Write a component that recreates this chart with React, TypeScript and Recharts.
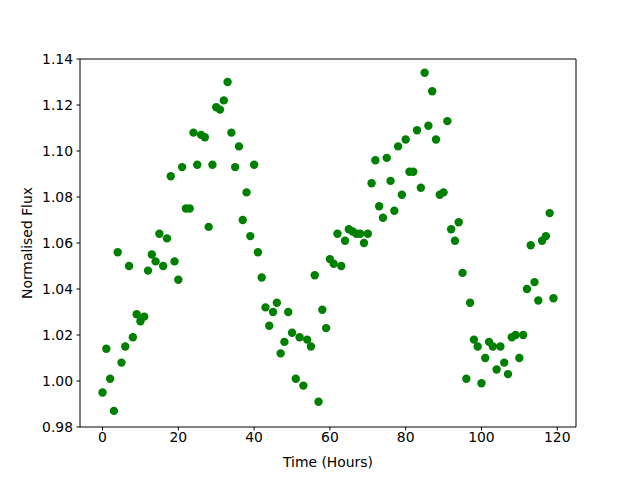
import React from 'react';
import { ScatterChart, Scatter, XAxis, YAxis, Label, ReferenceLine } from 'recharts';

const hours: number[] = Array.from({ length: 120 }, (_, i) => i);
const flux: number[] = [
  0.995, 1.014, 1.001, 0.987, 1.056, 1.008, 1.015, 1.050, 1.019, 1.029,
  1.026, 1.028, 1.048, 1.055, 1.052, 1.064, 1.050, 1.062, 1.089, 1.052,
  1.044, 1.093, 1.075, 1.075, 1.108, 1.094, 1.107, 1.106, 1.067, 1.094,
  1.119, 1.118, 1.122, 1.130, 1.108, 1.093, 1.102, 1.070, 1.082, 1.063,
  1.094, 1.056, 1.045, 1.032, 1.024, 1.030, 1.034, 1.012, 1.017, 1.030,
  1.021, 1.001, 1.019, 0.998, 1.018, 1.015, 1.046, 0.991, 1.031, 1.023,
  1.053, 1.051, 1.064, 1.050, 1.061, 1.066, 1.065, 1.064, 1.064, 1.060,
  1.064, 1.086, 1.096, 1.076, 1.071, 1.097, 1.087, 1.074, 1.102, 1.081,
  1.105, 1.091, 1.091, 1.109, 1.084, 1.134, 1.111, 1.126, 1.105, 1.081,
  1.082, 1.113, 1.066, 1.061, 1.069, 1.047, 1.001, 1.034, 1.018, 1.015,
  0.999, 1.010, 1.017, 1.015, 1.005, 1.015, 1.008, 1.003, 1.019, 1.020,
  1.010, 1.020, 1.040, 1.059, 1.043, 1.035, 1.061, 1.063, 1.073, 1.036,
];
const xTicks: number[] = [0, 20, 40, 60, 80, 100, 120];
const yTicks: number[] = [0.98, 1.0, 1.02, 1.04, 1.06, 1.08, 1.1, 1.12, 1.14];
const xDomain: [number, number] = [-5.95, 124.95];
const yDomain: [number, number] = [0.98, 1.14];

const data = hours.map((h, i) => ({ x: h, y: flux[i] }));

const font = { fontFamily: 'DejaVu Sans', fontSize: 13.9, fill: '#000' };

const Dot = (props: any) => (
  <circle cx={props.cx} cy={props.cy} r={4.2} fill="#008000" />
);

export default function App() {
  return (
    <div style={{ position: 'absolute', left: 0, top: 0, width: 640, height: 480, background: '#fff' }}>
      <ScatterChart width={640} height={480} margin={{ top: 59, right: 64, left: 20, bottom: 23 }}>
        <XAxis
          dataKey="x"
          type="number"
          domain={xDomain}
          ticks={xTicks}
          allowDataOverflow
          stroke="#000"
          tickSize={3.5}
          tickMargin={2}
          tick={font}
          tickLine={{ stroke: '#000' }}
          axisLine={{ stroke: '#000' }}
          height={30}
        >
          <Label value="Time (Hours)" position="bottom" offset={0} style={{ fontFamily: 'DejaVu Sans', fontSize: 13.9, fill: '#000' }} />
        </XAxis>
        <YAxis
          dataKey="y"
          type="number"
          domain={yDomain}
          ticks={yTicks}
          allowDataOverflow
          tickFormatter={(v: number) => v.toFixed(2)}
          stroke="#000"
          tickSize={3.5}
          tickMargin={3.5}
          tick={font}
          tickLine={{ stroke: '#000' }}
          axisLine={{ stroke: '#000' }}
          width={60}
        >
          <Label value="Normalised Flux" angle={-90} position="insideLeft" offset={7} style={{ textAnchor: 'middle', fontFamily: 'DejaVu Sans', fontSize: 13.9, fill: '#000' }} />
        </YAxis>
        <ReferenceLine y={1.14} stroke="#000" strokeWidth={1} ifOverflow="extendDomain" />
        <ReferenceLine x={124.95} stroke="#000" strokeWidth={1} ifOverflow="extendDomain" />
        <Scatter data={data} shape={Dot} isAnimationActive={false} />
      </ScatterChart>
    </div>
  );
}
